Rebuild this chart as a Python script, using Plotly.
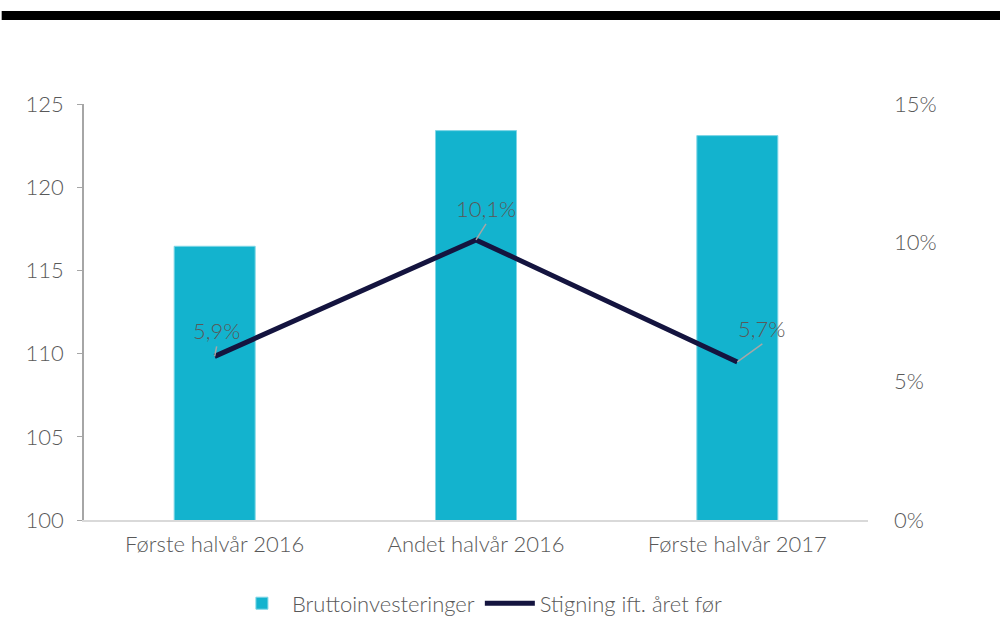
import plotly.graph_objects as go

categories = ["Første halvår 2016", "Andet halvår 2016", "Første halvår 2017"]
brutto = [116.45, 123.4, 123.1]
stigning = [5.9, 10.1, 5.7]
label_texts = ["5,9%", "10,1%", "5,7%"]
left_ticks = [100, 105, 110, 115, 120, 125]
right_ticks = [0, 5, 10, 15]
right_tick_text = ["0%", "5%", "10%", "15%"]

TXT = "#595959"
FONT = "Lato"
FS = 22

fig = go.Figure()
fig.add_trace(go.Bar(
    x=categories, y=brutto, name="Bruttoinvesteringer",
    marker=dict(color="#13B3CE", line=dict(color="#7FD6E6", width=1)),
    yaxis="y",
))
fig.add_trace(go.Scatter(
    x=categories, y=stigning, name="Stigning ift. året før",
    mode="lines", line=dict(color="#14143F", width=5),
    yaxis="y2",
))

offsets = [(2, -10), (10, -16), (25, -18)]
for c, v, t, (ax, ay) in zip(categories, stigning, label_texts, offsets):
    fig.add_annotation(
        x=c, y=v, xref="x", yref="y2", text=t,
        showarrow=True, arrowhead=0, arrowwidth=1.5, arrowcolor="#A6A6A6",
        ax=ax, ay=ay, standoff=0,
        font=dict(family=FONT, size=FS, color=TXT, weight=300),
        yanchor="bottom",
    )

fig.add_shape(type="rect", xref="paper", yref="paper",
              x0=-0.105, x1=1.2, y0=1 + 84/416, y1=1 + 93/416,
              fillcolor="black", line=dict(width=0))

tf = dict(family=FONT, size=FS, color=TXT, weight=300)

fig.update_layout(
    width=1000, height=617,
    margin=dict(l=84, r=132, t=104, b=97, autoexpand=False),
    paper_bgcolor="white", plot_bgcolor="white",
    bargap=0.69,
    font=tf,
    xaxis=dict(
        showline=True, linecolor="#D9D9D9", linewidth=1.5,
        ticks="", tickfont=tf,
        ticklabelstandoff=4,
    ),
    yaxis=dict(
        range=[100, 125], tickvals=left_ticks,
        showgrid=False, zeroline=False,
        showline=True, linecolor="#A6A6A6", linewidth=1.5,
        ticks="outside", ticklen=5, tickcolor="#A6A6A6",
        tickfont=tf,
        ticklabelstandoff=9,
    ),
    yaxis2=dict(
        range=[0, 15], tickvals=right_ticks, ticktext=right_tick_text,
        overlaying="y", side="right",
        showgrid=False, zeroline=False, showline=False,
        tickfont=tf,
        ticklabelstandoff=25,
    ),
    legend=dict(
        orientation="h", x=0.505, xanchor="center", y=-0.15, yanchor="top",
        font=tf, itemwidth=50,
    ),
    showlegend=True,
)

fig.write_html("out.html", config={"displayModeBar": False},
               post_script="document.body.style.margin='0';document.body.style.overflow='hidden';")
